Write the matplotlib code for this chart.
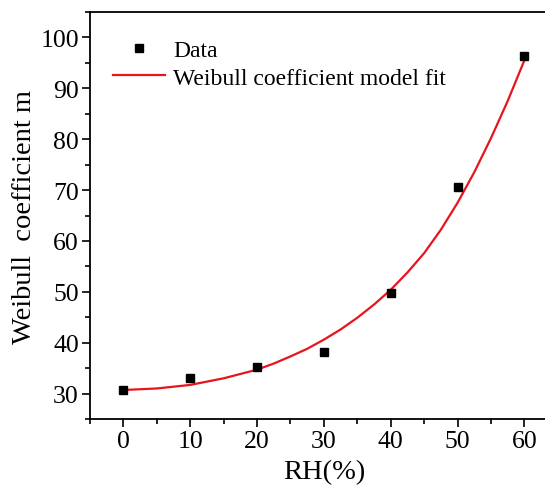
import matplotlib
matplotlib.use('Agg')
import matplotlib.pyplot as plt
from matplotlib.ticker import MultipleLocator

#%% Daten (aus Bild abgelesen)

rh = [0, 10, 20, 30, 40, 50, 60]
m_data = [30.7, 33.0, 35.3, 38.1, 49.7, 70.7, 96.4]

# Fit-Kurve
rh_fit = [0, 5, 10, 15, 20, 22.5, 25, 27.5, 30, 32.5, 35, 37.5, 40, 42.5, 45, 47.5,
          50, 52.5, 55, 57.5, 60]
m_fit = [30.7, 31.0, 31.7, 33.0, 34.7, 35.9, 37.3, 38.8, 40.6, 42.6, 44.9, 47.5, 50.4,
         53.8, 57.6, 62.2, 67.5, 73.5, 80.2, 87.5, 95.5]

x_ticks = [0, 10, 20, 30, 40, 50, 60]
y_ticks = [30, 40, 50, 60, 70, 80, 90, 100]

plt.rcParams['font.family'] = ['Liberation Serif', 'DejaVu Serif']

fig = plt.figure(figsize=(5.45, 4.89), dpi=100)
ax = fig.add_axes([90/545, 69/489, 467.8/545, 407/489])

ax.plot(rh_fit, m_fit, color='#e8141c', lw=1.6, label='Weibull coefficient model fit', zorder=2)
ax.plot(rh, m_data, ls='none', marker='s', ms=6.3, color='black', label='Data', zorder=3)

ax.set_xlim(-5, 65)
ax.set_ylim(25, 105)
ax.set_xticks(x_ticks)
ax.set_yticks(y_ticks)
ax.xaxis.set_minor_locator(MultipleLocator(5))
ax.yaxis.set_minor_locator(MultipleLocator(5))
ax.tick_params(which='major', direction='out', length=6, width=1.2, labelsize=18.5, pad=2)
ax.tick_params(which='minor', direction='out', length=3.5, width=1.2)
ax.tick_params(top=False, right=False)
for s in ax.spines.values():
    s.set_linewidth(1.3)

ax.set_xlabel('RH(%)', fontsize=20.5, labelpad=5)
ax.set_ylabel('Weibull  coefficient m', fontsize=20.5, labelpad=2)

h, l = ax.get_legend_handles_labels()
ax.legend(h[::-1], l[::-1], loc='upper left', bbox_to_anchor=(0.049, 0.932), frameon=False,
          fontsize=17, handlelength=2.2, handletextpad=0.34, labelspacing=0.25,
          borderpad=0, borderaxespad=0, markerscale=1.0)

fig.savefig('out.png', dpi=100)
